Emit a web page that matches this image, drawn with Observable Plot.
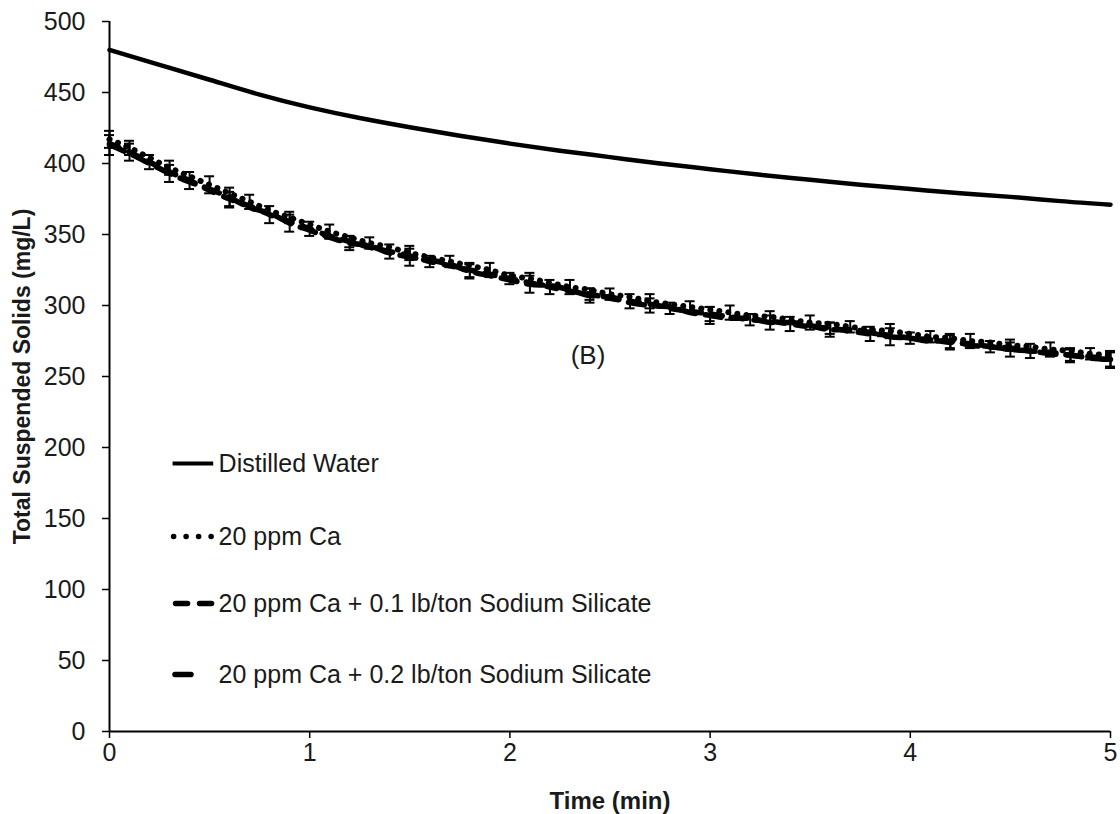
<!DOCTYPE html>
<html>
<head>
<meta charset="utf-8">
<script src="https://cdn.jsdelivr.net/npm/d3@7"></script>
<script src="https://cdn.jsdelivr.net/npm/@observablehq/plot@0.6"></script>
<style>
  html, body { margin: 0; padding: 0; background: #fff; }
  svg { font-family: "Liberation Sans", Arial, sans-serif; }
</style>
</head>
<body>
<div id="chart"></div>
<script>
// ---- Data ----
const waterTime = [0,0.25,0.5,0.75,1,1.25,1.5,1.75,2,2.25,2.5,2.75,3,3.25,3.5,3.75,4,4.25,4.5,4.75,5];
const waterTSS  = [480,469.5,459,448.5,439.5,432,425.5,419.5,414,409,404.5,400,396,392,388.5,385,382,379,376.5,373.5,371];

const time = [0,0.1,0.2,0.3,0.4,0.5,0.6,0.7,0.8,0.9,1.0,1.1,1.2,1.3,1.4,1.5,1.6,1.7,1.8,1.9,2.0,2.1,2.2,2.3,2.4,2.5,2.6,2.7,2.8,2.9,3.0,3.1,3.2,3.3,3.4,3.5,3.6,3.7,3.8,3.9,4.0,4.1,4.2,4.3,4.4,4.5,4.6,4.7,4.8,4.9,5.0];
const caTSS   = [417,411,404,397,391,385,379,373,367,362,357,352,348,344,341,337,334,331,328,325,321,319,316,313,311,308,306,303,301,299,297,295,293,292,290,288,287,285,283,282,280,278,277,275,274,272,271,269,268,266,265];
const si01TSS = [414,408,401,394,388,381,375,370,364,359,354,349,345,341,338,335,331,328,325,322,319,316,313,310,308,305,303,301,298,296,294,292,290,289,287,285,284,282,280,279,277,276,274,273,271,270,268,267,265,264,262];
const si02TSS = [413,407,400,393,387,382,376,369,365,358,353,348,344,342,337,334,332,329,324,321,318,315,314,311,307,306,302,300,299,295,293,291,291,288,288,286,283,283,281,278,277,275,275,272,271,269,268,266,265,263,262];
const caErr   = [6,5,0,5,0,6,0,5,0,4,0,5,0,4,0,5,0,4,0,5,0,4,0,5,0,4,0,5,0,4,0,5,0,4,0,5,0,4,0,5,0,4,0,5,0,4,0,5,0,4,0];
const si01Err = [0,6,5,0,6,0,5,0,6,0,5,0,4,0,5,0,4,0,5,0,4,0,5,0,4,0,5,0,4,0,5,0,4,0,5,0,4,0,5,0,4,0,5,0,4,0,5,0,4,0,5];
const si02Err = [7,0,0,6,0,0,7,0,0,6,0,0,5,0,0,6,0,0,5,0,0,6,0,0,5,0,0,5,0,0,6,0,0,5,0,0,5,0,0,6,0,0,5,0,0,5,0,0,5,0,6];

const seriesNames = ["Distilled Water","20 ppm Ca","20 ppm Ca + 0.1 lb/ton Sodium Silicate","20 ppm Ca + 0.2 lb/ton Sodium Silicate"];
const yTicks = [0,50,100,150,200,250,300,350,400,450,500];
const xTicks = [0,1,2,3,4,5];
const legendY = [188.7, 137.3, 90.1, 40.1];
const panelLabel = "(B)";

// ---- Build tables ----
const water = waterTime.map((t, i) => ({t, v: waterTSS[i]}));
function build(vals, errs) { return time.map((t, i) => ({t, v: vals[i], e: errs[i]})); }
const ca = build(caTSS, caErr), si01 = build(si01TSS, si01Err), si02 = build(si02TSS, si02Err);
const allTreated = [...ca, ...si01, ...si02].filter(d => d.e > 0);

const legend = seriesNames.map((name, i) => ({name, y: legendY[i], i}));

const capHalf = 0.025;
const ink = "#1a1a1a";

const chart = Plot.plot({
  width: 1120,
  height: 814,
  marginLeft: 109,
  marginRight: 10,
  marginTop: 21,
  marginBottom: 83,
  style: {fontFamily: "'Liberation Sans', Arial, sans-serif", background: "#fff", color: "#000", fontSize: "25px"},
  x: {domain: [0, 5], ticks: xTicks, label: null},
  y: {domain: [0, 500], ticks: yTicks, label: null},
  marks: [
    Plot.axisX({ticks: xTicks, tickFormat: "d", tickSize: 7, tickPadding: 5, fontSize: 25, stroke: "#000", strokeWidth: 1.5, fill: ink, label: null}),
    Plot.axisY({ticks: yTicks, tickFormat: "d", tickSize: 7, tickPadding: 17, fontSize: 25, stroke: "#000", strokeWidth: 1.5, fill: ink, label: null}),
    Plot.ruleX([0], {stroke: "#000", strokeWidth: 2}),
    Plot.ruleY([0], {stroke: "#000", strokeWidth: 2}),
    // axis titles
    Plot.text(["Time (min)"], {x: 2.5, y: 0, dy: 70, fontSize: 24, fontWeight: "bold", fill: ink}),
    Plot.text(["Total Suspended Solids (mg/L)"], {x: 0, y: 250, dx: -87, rotate: -90, fontSize: 23, fontWeight: "bold", fill: ink}),
    // distilled water
    Plot.line(water, {x: "t", y: "v", stroke: "#000", strokeWidth: 4.5, curve: "natural"}),
    // treated series
    Plot.line(si02, {x: "t", y: "v", stroke: "#000", strokeWidth: 5.5, strokeDasharray: "16 10", strokeLinecap: "round", curve: "monotone-x"}),
    Plot.line(si01, {x: "t", y: "v", stroke: "#000", strokeWidth: 5.5, strokeDasharray: "10 11", strokeLinecap: "round", curve: "monotone-x"}),
    Plot.line(ca, {x: "t", y: "v", stroke: "#000", strokeWidth: 6, strokeDasharray: "0.1 9", strokeLinecap: "round", curve: "monotone-x"}),
    // error bars
    Plot.ruleX(allTreated, {x: "t", y1: d => d.v - d.e, y2: d => d.v + d.e, stroke: "#000", strokeWidth: 2}),
    Plot.ruleY(allTreated, {y: d => d.v + d.e, x1: d => d.t - capHalf, x2: d => d.t + capHalf, stroke: "#000", strokeWidth: 2}),
    Plot.ruleY(allTreated, {y: d => d.v - d.e, x1: d => d.t - capHalf, x2: d => d.t + capHalf, stroke: "#000", strokeWidth: 2}),
    // legend
    Plot.link(legend.filter(d => d.i === 0), {x1: 0.315, x2: 0.518, y1: "y", y2: "y", stroke: "#000", strokeWidth: 4}),
    Plot.link(legend.filter(d => d.i === 1), {x1: 0.32, x2: 0.514, y1: "y", y2: "y", stroke: "#000", strokeWidth: 5.5, strokeDasharray: "0.1 12.4", strokeLinecap: "round"}),
    Plot.link(legend.filter(d => d.i === 2), {x1: 0.33, x2: 0.51, y1: "y", y2: "y", stroke: "#000", strokeWidth: 5.5, strokeDasharray: "12 12", strokeLinecap: "round"}),
    Plot.link(legend.filter(d => d.i === 3), {x1: 0.327, x2: 0.407, y1: "y", y2: "y", stroke: "#000", strokeWidth: 5.5, strokeLinecap: "round"}),
    Plot.text(legend, {x: 0.545, y: "y", text: "name", textAnchor: "start", fontSize: 25, fill: ink}),
    Plot.text([panelLabel], {x: 2.39, y: 265, fontSize: 26, fill: ink})
  ]
});
document.getElementById("chart").appendChild(chart);
</script>
</body>
</html>
